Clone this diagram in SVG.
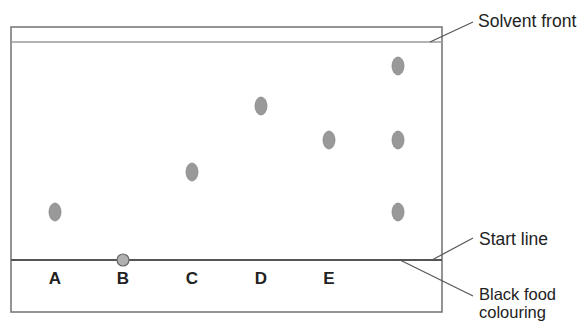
<svg xmlns="http://www.w3.org/2000/svg" width="581" height="322" viewBox="0 0 581 322">
<style>
.frame{fill:#fff;stroke:#7a7a7a;stroke-width:1.6}
.thin{stroke:#9a9a9a;stroke-width:1.4;fill:none}
.start{stroke:#555;stroke-width:2;fill:none}
.lead{stroke:#555;stroke-width:1.2;fill:none}
.spot{fill:#999;stroke:#888;stroke-width:0.8}
.dot{fill:#b0b0b0;stroke:#666;stroke-width:1.2}
.lbl{font-family:"Liberation Sans",Arial,sans-serif;font-size:17px;font-weight:bold;fill:#222;text-anchor:middle}
.note{font-family:"Liberation Sans",Arial,sans-serif;font-size:17.5px;fill:#222}
.note2{font-family:"Liberation Sans",Arial,sans-serif;font-size:16.5px;fill:#222}
</style>
<g id="plate">
<rect class="frame" x="11" y="27" width="431" height="285"/>
<line class="thin" x1="11" y1="42" x2="442" y2="42"/>
<line class="start" x1="11" y1="260" x2="442" y2="260"/>
</g>
<g id="spots">
<ellipse class="spot" cx="55" cy="212" rx="6" ry="9"/>
<circle class="dot" cx="123" cy="260" r="6"/>
<ellipse class="spot" cx="192" cy="172" rx="6" ry="9"/>
<ellipse class="spot" cx="261" cy="106" rx="6" ry="9"/>
<ellipse class="spot" cx="329" cy="140" rx="6" ry="9"/>
<ellipse class="spot" cx="398" cy="66" rx="6" ry="9"/>
<ellipse class="spot" cx="398" cy="140" rx="6" ry="9"/>
<ellipse class="spot" cx="398" cy="212" rx="6" ry="9"/>
</g>
<g id="labels">
<text class="lbl" x="55" y="284">A</text>
<text class="lbl" x="123" y="284">B</text>
<text class="lbl" x="192" y="284">C</text>
<text class="lbl" x="261" y="284">D</text>
<text class="lbl" x="329" y="284">E</text>
</g>
<g id="connectors">
<line class="lead" x1="430" y1="42" x2="473" y2="22"/>
<line class="lead" x1="432" y1="260" x2="473" y2="238"/>
<line class="lead" x1="400" y1="260" x2="473" y2="296"/>
</g>
<g id="annotations">
<text class="note" x="478" y="27">Solvent front</text>
<text class="note" x="479" y="245">Start line</text>
<text class="note2" x="479" y="300">Black food</text>
<text class="note2" x="479" y="318">colouring</text>
</g>
</svg>
